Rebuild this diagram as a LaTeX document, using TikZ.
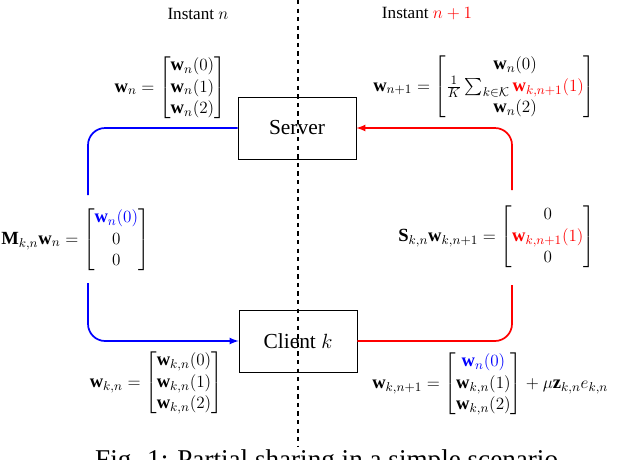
\documentclass[tikz,border=0pt]{standalone}
\usepackage{amsmath,bm}
\usepackage{fontspec}
\setmainfont{Liberation Serif}
\begin{document}
\begin{tikzpicture}[x=0.7pt,y=-0.7pt,
  box/.style={draw,minimum width=118*0.7pt,minimum height=62*0.7pt,font=\fontsize{15}{17}\selectfont},
  lbl/.style={inner sep=0pt,font=\fontsize{13}{15}\selectfont},
  bl/.style={blue,line width=1.2pt,rounded corners=12pt},
  rl/.style={red,line width=1.2pt,rounded corners=12pt}]
\useasboundingbox (0,0) rectangle (640,459);
\draw[dashed,line width=1pt] (298,0) -- (298,446);
\node[inner sep=0pt,font=\fontsize{12}{14}\selectfont] (i1) at (198,14) {Instant $n$};
\node[inner sep=0pt,font=\fontsize{12}{14}\selectfont] (i2) at (427,14) {Instant $\color{red}n+1$};
\node[box] (s) at (297,128) {Server};
\node[box] (c) at (298,341) {Client $k$};
\node[lbl,anchor=east] (wn) at (226,88) {$\mathbf{w}_n=\begin{bmatrix}\mathbf{w}_n(0)\\ \mathbf{w}_n(1)\\ \mathbf{w}_n(2)\end{bmatrix}$};
\node[lbl,anchor=west] (wn1) at (373,87) {$\mathbf{w}_{n+1}=\left[\begin{matrix}\mathbf{w}_n(0)\\ \frac{1}{K}\sum_{k\in\mathcal{K}}{\color{red}\mathbf{w}_{k,n+1}(1)}\\ \mathbf{w}_n(2)\end{matrix}\right]$};
\node[lbl,anchor=west] (m) at (1,240) {$\mathbf{M}_{k,n}\mathbf{w}_n=\begin{bmatrix}{\color{blue}\mathbf{w}_n(0)}\\ 0\\ 0\end{bmatrix}$};
\node[lbl,anchor=west] (sm) at (398,237) {$\mathbf{S}_{k,n}\mathbf{w}_{k,n+1}=\begin{bmatrix}0\\ {\color{red}\mathbf{w}_{k,n+1}(1)}\\ 0\end{bmatrix}$};
\node[lbl,anchor=east] (wk) at (223,383) {$\mathbf{w}_{k,n}=\begin{bmatrix}\mathbf{w}_{k,n}(0)\\ \mathbf{w}_{k,n}(1)\\ \mathbf{w}_{k,n}(2)\end{bmatrix}$};
\node[lbl,anchor=west] (wk1) at (372,384) {$\mathbf{w}_{k,n+1}=\begin{bmatrix}{\color{blue}\mathbf{w}_n(0)}\\ \mathbf{w}_{k,n}(1)\\ \mathbf{w}_{k,n}(2)\end{bmatrix}+\mu\mathbf{z}_{k,n}e_{k,n}$};
\node[inner sep=0pt,font=\fontsize{19}{21}\selectfont] (cap) at (330,462) {Fig. 1: Partial sharing in a simple scenario.};
\coordinate (b1) at (88,195);
\coordinate (b2) at (88,283);
\coordinate (r1) at (512,285);
\coordinate (r2) at (512,190);
\draw[bl] (s.west) -| (b1);
\draw[bl,-latex] (b2) |- (c.west);
\draw[rl] (c.east) -| (r1);
\draw[rl,-latex] (r2) |- (s.east);
\end{tikzpicture}
\end{document}
